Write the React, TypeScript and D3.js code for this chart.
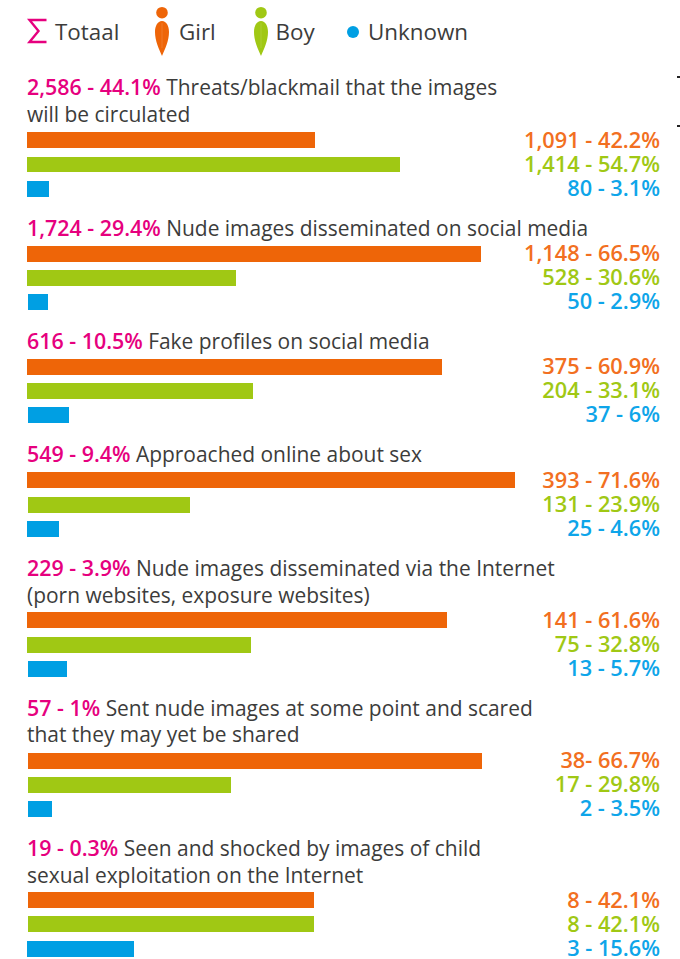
import React from "react";
import * as d3 from "d3";

const totals = ["2,586 - 44.1%", "1,724 - 29.4%", "616 - 10.5%", "549 - 9.4%", "229 - 3.9%", "57 - 1%", "19 - 0.3%"];
const titles = [
  ["Threats/blackmail that the images", "will be circulated"],
  ["Nude images disseminated on social media"],
  ["Fake profiles on social media"],
  ["Approached online about sex"],
  ["Nude images disseminated via the Internet", "(porn websites, exposure websites)"],
  ["Sent nude images at some point and scared", "that they may yet be shared"],
  ["Seen and shocked by images of child", "sexual exploitation on the Internet"],
];
const girlPct = [42.2, 66.5, 60.9, 71.6, 61.6, 66.7, 42.1];
const boyPct = [54.7, 30.6, 33.1, 23.9, 32.8, 29.8, 42.1];
const unknownPct = [3.1, 2.9, 6, 4.6, 5.7, 3.5, 15.6];
const girlLabels = ["1,091 - 42.2%", "1,148 - 66.5%", "375 - 60.9%", "393 - 71.6%", "141 - 61.6%", "38- 66.7%", "8 - 42.1%"];
const boyLabels = ["1,414 - 54.7%", "528 - 30.6%", "204 - 33.1%", "131 - 23.9%", "75 - 32.8%", "17 - 29.8%", "8 - 42.1%"];
const unknownLabels = ["80 - 3.1%", "50 - 2.9%", "37 - 6%", "25 - 4.6%", "13 - 5.7%", "2 - 3.5%", "3 - 15.6%"];

const MAGENTA = "#e6007e";
const ORANGE = "#ee6508";
const ORANGE_TEXT = "#f26f21";
const GREEN = "#a0c814";
const BLUE = "#009fe3";
const INK = "#3c3c3b";
const FONT = "'Open Sans', sans-serif";

// Layout, one entry per group
const titleY = [95, 236, 349, 462, 576, 716, 856];
const title2Y = [122, 0, 0, 0, 603, 742, 883];
const labelY = [148, 261, 374, 488, 628, 768, 908];
const girlTop = [132, 246, 359, 472, 612, 753, 892];
const boyTop = [157, 270, 383, 497, 637, 777, 916];
const unknownTop = [181, 294, 407, 521, 661, 801, 941];
const girlLeft = [27, 27, 27, 27, 27, 28, 28];
const boyLeft = [27, 27, 27, 28, 27, 28, 28];
const unknownLeft = [27, 28, 28, 27, 28, 28, 27];

const x = d3.scaleLinear().domain([0, 100]).range([27, 708.5]);

const series = [
  { pct: girlPct, labels: girlLabels, fill: ORANGE, text: ORANGE_TEXT, tops: girlTop, lefts: girlLeft, pad: 0.45 },
  { pct: boyPct, labels: boyLabels, fill: GREEN, text: GREEN, tops: boyTop, lefts: boyLeft, pad: 0.45 },
  { pct: unknownPct, labels: unknownLabels, fill: BLUE, text: "#0ea5e9", tops: unknownTop, lefts: unknownLeft, pad: 1 },
];

function Person({ x: cx, color }: { x: number; color: string }) {
  return (
    <g transform={`translate(${cx},0)`}>
      <circle cx={0} cy={12.7} r={5.8} fill={color} />
      <path d="M0,21 C-4.5,21 -7,26 -7,32 C-7,41 -3,49 0,56 C3,49 7,41 7,32 C7,26 4.5,21 0,21 Z" fill={color} />
      <line x1={0} x2={0} y1={23} y2={48} stroke="#fff" strokeOpacity={0.2} strokeWidth={0.7} />
    </g>
  );
}

export default function App() {
  return (
    <svg
      width={680}
      height={959}
      style={{ position: "absolute", left: 0, top: 0, background: "#fff" }}
      fontFamily={FONT}
    >
      {/* legend */}
      <path d="M46.5,20 H29.5 L38.5,31 L29.5,42 H46.5" fill="none" stroke={MAGENTA} strokeWidth={2.4} />
      <text x={55} y={40} fontSize={22.4} fill={INK}>Totaal</text>
      <Person x={162} color={ORANGE} />
      <text x={179} y={40} fontSize={22.4} fill={INK}>Girl</text>
      <Person x={261} color={GREEN} />
      <text x={275.5} y={40} fontSize={22.4} fill={INK}>Boy</text>
      <circle cx={353} cy={32} r={6} fill={BLUE} />
      <text x={368} y={40} fontSize={22.4} fill={INK}>Unknown</text>

      {/* stray marks at the right edge */}
      <rect x={677} y={76} width={3} height={2} fill="#222" />
      <rect x={677} y={125} width={3} height={2} fill="#222" />

      {totals.map((total, i) => {
        const lines = titles[i];
        return (
          <g key={i}>
            <text x={27} y={titleY[i]} fontSize={20.95} fill={INK}>
              <tspan fontWeight={600} fill={MAGENTA} fontSize={21.4}>{total}</tspan>
              <tspan> {lines[0]}</tspan>
            </text>
            {lines.length > 1 && (
              <text x={27} y={title2Y[i]} fontSize={20.95} fill={INK}>{lines[1]}</text>
            )}
            {series.map((s, k) => {
              const left = s.lefts[i];
              const right = Math.round(x(s.pct[i]) + s.pad);
              return (
                <g key={k}>
                  <rect
                    x={left}
                    y={s.tops[i]}
                    width={right - left}
                    height={i === 0 && k === 1 ? 15 : 16}
                    fill={s.fill}
                  />
                  <text
                    x={660}
                    y={labelY[i] + k * 24}
                    fontSize={21.75}
                    fontWeight={600}
                    textAnchor="end"
                    fill={s.text}
                  >
                    {s.labels[i]}
                  </text>
                </g>
              );
            })}
          </g>
        );
      })}
    </svg>
  );
}
